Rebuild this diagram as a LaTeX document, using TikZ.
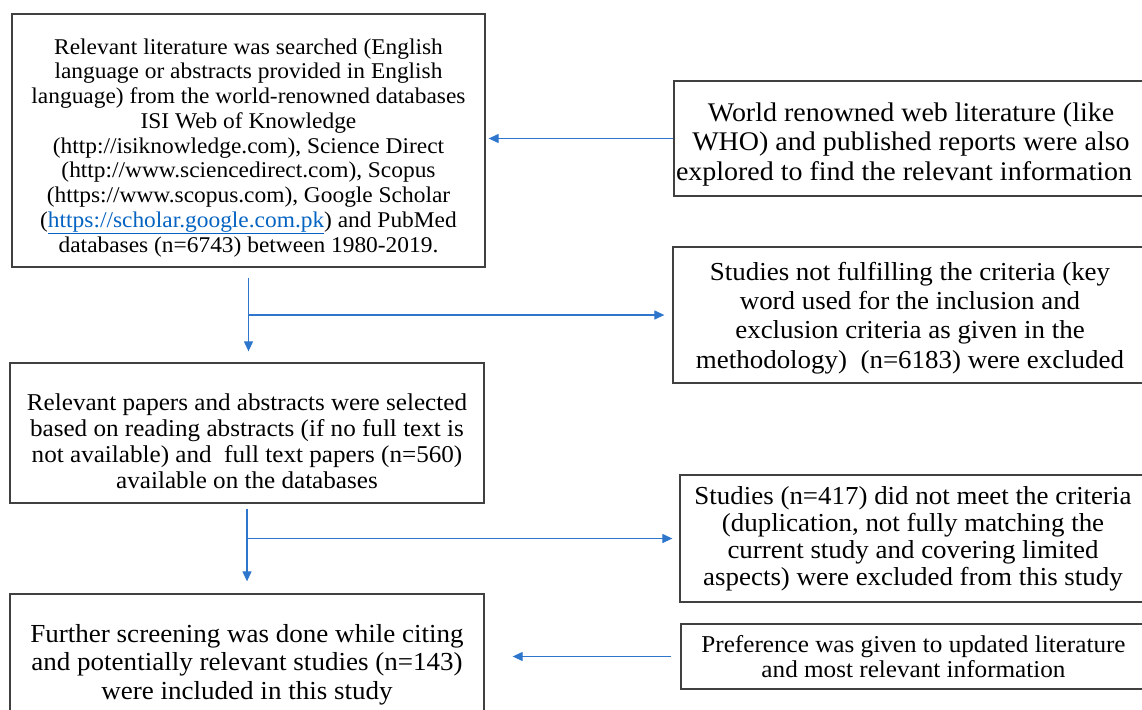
\documentclass[tikz,border=0pt]{standalone}
\usepackage{fontspec}
\setmainfont[FakeStretch=1.04]{Liberation Serif}
\usetikzlibrary{arrows.meta}
\definecolor{boxgray}{RGB}{64,64,64}
\definecolor{arrblue}{RGB}{46,117,204}
\definecolor{linkblue}{RGB}{5,99,193}
\newcommand{\topgap}[1]{\rule{0pt}{#1}}

\begin{document}
\begin{tikzpicture}[x=1pt, y=-1pt, thick]
\tikzset{box/.style={draw=boxgray, line width=1.3pt, align=center, inner sep=0pt},
arr/.style={draw=arrblue, line width=1.2pt, -{Triangle[length=10pt,width=9pt]}},
}
\clip (0,0) rectangle (1142,709);
\useasboundingbox (0,0) rectangle (1142,709);

\node[box, minimum width=473pt, minimum height=253pt,
  font=\fontsize{22.5}{24.75}\selectfont] (search) at (248.5,140.5)
  {\topgap{30pt}Relevant literature was searched (English\\ language or abstracts provided in English\\ language) from the world-renowned databases\\ ISI Web of Knowledge\\ (http://isiknowledge.com), Science Direct\\ (http://www.sciencedirect.com), Scopus\\ (https://www.scopus.com), Google Scholar\\ ({\color{linkblue}\underline{https://scholar.google.com.pk}}) and PubMed\\ databases (n=6743) between 1980-2019.};
\node[box, minimum width=474pt, minimum height=115pt,
  font=\fontsize{26.9}{29.5}\selectfont] (web) at (911,138.5)
  {\topgap{30.5pt}World renowned web literature (like\\ WHO) and published reports were also\\ explored to find the relevant information\hspace*{14pt}};
\node[box, minimum width=474pt, minimum height=136pt,
  font=\fontsize{25.9}{29.3}\selectfont] (crit) at (910,315)
  {\topgap{24pt}Studies not fulfilling the criteria (key\\ word used for the inclusion and\\ exclusion criteria as given in the\\ methodology)\ \ (n=6183) were excluded};
\node[box, minimum width=474pt, minimum height=140pt,
  font=\fontsize{24.15}{26}\selectfont] (papers) at (247,433)
  {\topgap{33pt}Relevant papers and abstracts were selected\\ based on reading abstracts (if no full text is\\ not available) and\ \ full text papers (n=560)\\ available on the databases};
\node[box, minimum width=466pt, minimum height=127pt,
  font=\fontsize{25.9}{27}\selectfont] (excl) at (913,538.5)
  {Studies (n=417) did not meet the criteria\\ (duplication, not fully matching the\\ current study and covering limited\\ aspects) were excluded from this study};
\node[box, minimum width=465pt, minimum height=65pt,
  font=\fontsize{24.2}{25}\selectfont] (pref) at (913.5,656.5)
  {Preference was given to updated literature\\ and most relevant information};
\node[box, minimum width=474pt, minimum height=134pt,
  font=\fontsize{26}{28.5}\selectfont] (final) at (247,661)
  {\topgap{25pt}Further screening was done while citing\\ and potentially relevant studies (n=143)\\ were included in this study};

\coordinate (b1) at (search.south |- crit.west);
\coordinate (b2) at (papers.south |- excl.west);

\draw[arr, shorten >=3pt] (web.west) -- (web.west -| search.east);
\draw[arr, shorten <=10pt, shorten >=11pt] (search.south) -- (search.south |- papers.north);
\draw[arr, shorten >=8pt] (b1) -- (crit.west);
\draw[arr, shorten <=5pt, shorten >=12pt] (papers.south) -- (final.north);
\draw[arr, shorten >=7pt] (b2) -- (excl.west);
\draw[arr, shorten <=9pt, shorten >=28pt] (pref.west) -- (pref.west -| final.east);
\end{tikzpicture}
\end{document}
